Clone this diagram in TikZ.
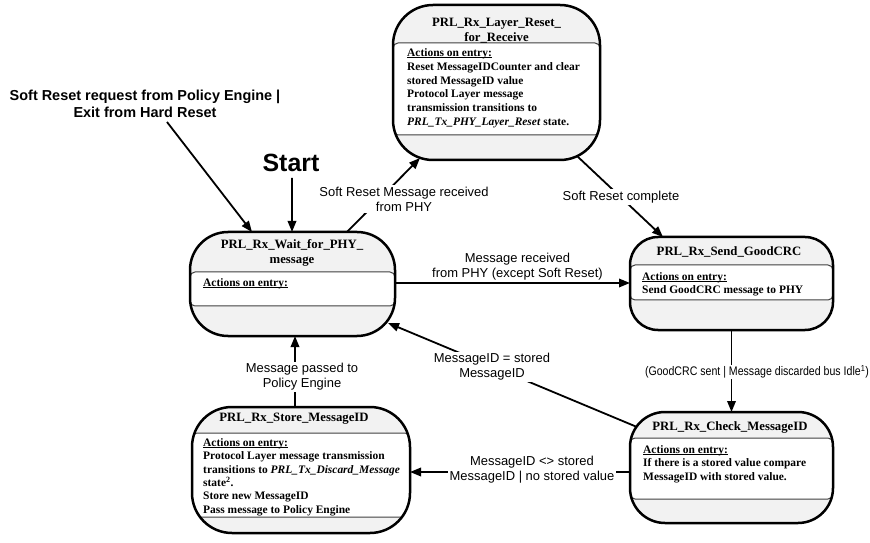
\documentclass[tikz,border=0pt]{standalone}
\usepackage{fontspec}
\setmainfont{Liberation Serif}
\setsansfont{Liberation Sans}
\newfontfamily\condsans[FakeStretch=0.85]{Liberation Sans}
\usetikzlibrary{arrows.meta,calc}
\definecolor{boxgray}{HTML}{F2F2F2}
\definecolor{bandline}{HTML}{404040}
\newcommand\entryhead{\underline{\raisebox{0pt}[\height][0pt]{Actions on entry:}}}
% #1 node name, #2 corner radius, #3 band top offset, #4 band bottom offset
\newcommand\stateparts[4]{%
  \begin{scope}
    \clip[rounded corners=#2bp] (#1.north west) rectangle (#1.south east);
    \draw[band] ($(#1.north west)+(0,#3)$) rectangle ($(#1.north east)+(0,#4)$);
  \end{scope}
  \draw[stborder, rounded corners=#2bp] (#1.north west) rectangle (#1.south east);
}
\begin{document}
\begin{tikzpicture}[x=1bp,y=-1bp,
  stfill/.style={fill=boxgray, draw=none, inner sep=0pt, outer sep=0pt},
  stborder/.style={draw=black, line width=2.5bp},
  band/.style={draw=bandline, fill=white, line width=1bp, rounded corners=5bp},
  ttl/.style={font=\fontsize{12.8}{15.5}\selectfont\bfseries, align=center, inner sep=0pt},
  body/.style={font=\fontsize{11.5}{13.5}\selectfont\bfseries, align=left, anchor=north west, inner sep=0pt},
  lbl/.style={font=\sffamily\fontsize{13}{15}\selectfont, align=center, fill=white, inner sep=1.5bp},
  arr/.style={-{Triangle[length=11bp,width=8.5bp]}, line width=1.8bp}
]
\useasboundingbox (0,0) rectangle (870,543);

% ---------- states ----------
\node[stfill, rounded corners=40bp, minimum width=207bp, minimum height=155bp] (layer) at (496.5,82.5) {};
\stateparts{layer}{40}{38}{130}
\node[ttl] (layer-t) at (496.5,30.5) {PRL\_Rx\_Layer\_Reset\_\\for\_Receive};
\node[body, font=\fontsize{11.5}{14}\selectfont\bfseries] (layer-b) at (407,48) {\entryhead\\Reset MessageIDCounter and clear\\stored MessageID value\\Protocol Layer message\\transmission transitions to\\\textit{PRL\_Tx\_PHY\_Layer\_Reset} state.};

\node[stfill, rounded corners=38bp, minimum width=205bp, minimum height=104bp] (wait) at (292.5,284) {};
\stateparts{wait}{38}{40}{74}
\node[ttl] (wait-t) at (292,253) {PRL\_Rx\_Wait\_for\_PHY\_\\message};
\node[body] (wait-b) at (203,278) {\entryhead};

\node[stfill, rounded corners=28bp, minimum width=203bp, minimum height=93bp] (send) at (731.5,283.5) {};
\stateparts{send}{28}{28}{63}
\node[ttl] (send-t) at (729,252) {PRL\_Rx\_Send\_GoodCRC};
\node[body] (send-b) at (642,272) {\entryhead\\Send GoodCRC message to PHY};

\node[stfill, rounded corners=35bp, minimum width=203bp, minimum height=111bp] (check) at (731.5,467.5) {};
\stateparts{check}{35}{26}{87}
\node[ttl] (check-t) at (730,427) {PRL\_Rx\_Check\_MessageID};
\node[body] (check-b) at (643,445) {\entryhead\\If there is a stored value compare\\MessageID with stored value.};

\node[stfill, rounded corners=40bp, minimum width=218bp, minimum height=126bp] (store) at (301,470) {};
\stateparts{store}{40}{26}{110}
\node[ttl] (store-t) at (294,419) {PRL\_Rx\_Store\_MessageID};
\node[body] (store-b) at (203,438) {\entryhead\\Protocol Layer message transmission\\transitions to \textit{PRL\_Tx\_Discard\_Message}\\state\textsuperscript{2}.\\Store new MessageID\\Pass message to Policy Engine};

% ---------- entry labels ----------
\node[font=\sffamily\bfseries\fontsize{14.5}{17}\selectfont, align=center, inner sep=0pt] (srreq) at (145,103.5) {Soft Reset request from Policy Engine |\\Exit from Hard Reset};
\node[font=\sffamily\bfseries\fontsize{25}{28}\selectfont, inner sep=0pt] (start) at (291,163) {Start};

\coordinate (srreq-out) at (167,122);
\draw[arr] (srreq-out) -- ($(wait.north west)+(62,0)$);
\coordinate (start-out) at (292,178);
\draw[arr] (start-out) -- ($(wait.north west)+(102,0)$);

% ---------- transitions ----------
\draw[arr] ($(wait.north west)+(157,0)$) -- ($(layer.south west)+(27,-2)$);
\node[lbl] (l-srm) at (404,199) {Soft Reset Message received\\from PHY};

\draw[arr] ($(layer.south east)+(-23,-4)$) -- ($(send.north west)+(33,0)$);
\node[lbl] (l-src) at (621,197) {Soft Reset complete};

\draw[arr] ($(wait.east)+(0,-1)$) -- ($(send.west)+(0,-0.5)$);
\node[lbl, fill=none] (l-mr) at (517.5,267) {Message received\\from PHY (except Soft Reset)};

\draw[arr] (send.south) -- (check.north);
\node[lbl, font=\condsans\fontsize{12.5}{14}\selectfont, inner sep=1bp] (l-gc) at (757,372) {(GoodCRC sent | Message discarded bus Idle\textsuperscript{1})};

\draw[arr] ($(check.north west)+(7,15)$) -- ($(wait.south east)+(-7,-13)$);
\node[lbl] (l-eq) at (492,367) {MessageID = stored\\MessageID};

\draw[arr] ($(store.north west)+(103,0)$) -- ($(wait.south west)+(105,0)$);
\node[lbl] (l-pass) at (302,377) {Message passed to\\Policy Engine};

\draw[arr] ($(check.west)+(0,4.5)$) -- ($(store.east)+(0,2)$);
\node[lbl] (l-ne) at (532,470) {MessageID <> stored\\MessageID | no stored value};

\end{tikzpicture}
\end{document}
